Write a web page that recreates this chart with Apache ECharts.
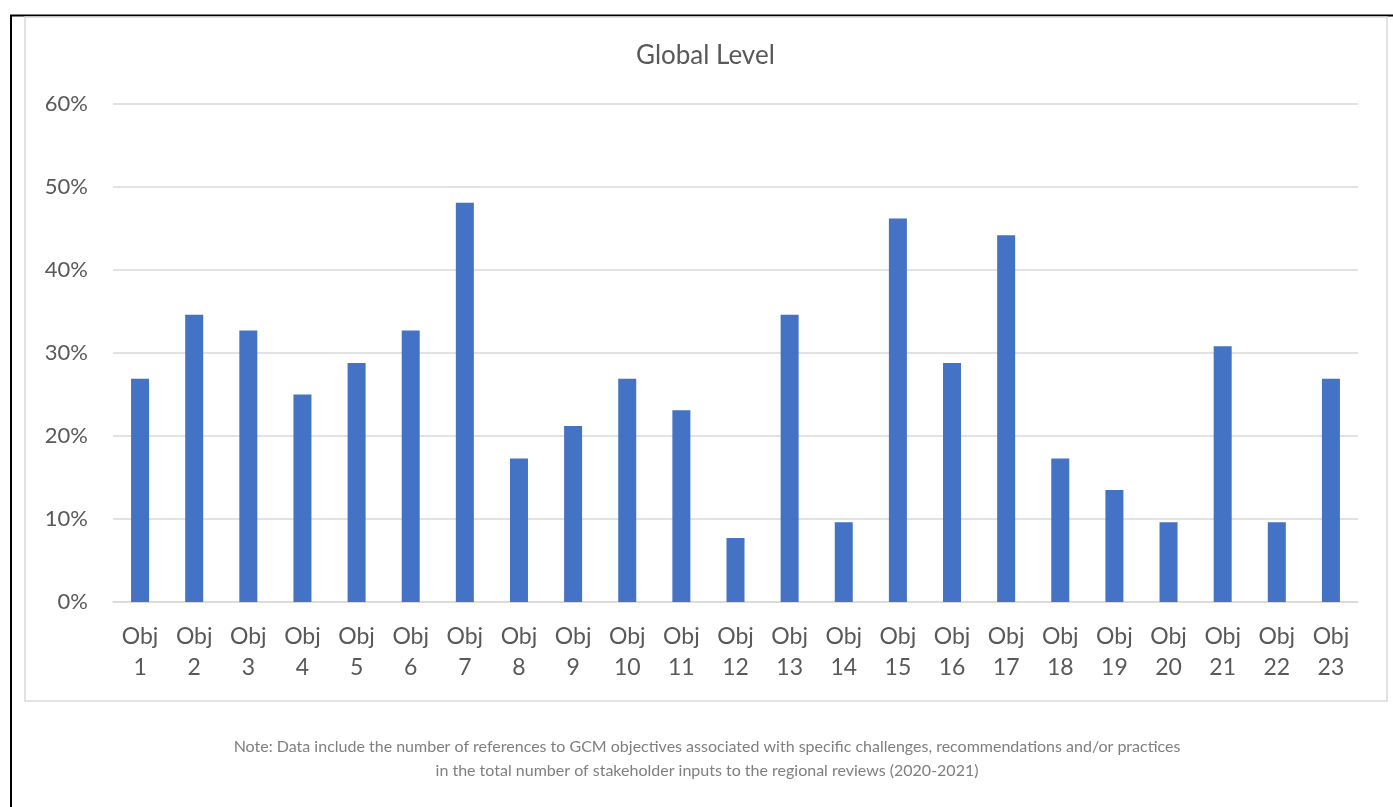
<!DOCTYPE html>
<html>
<head>
<meta charset="utf-8">
<script src="https://cdn.jsdelivr.net/npm/echarts@6/dist/echarts.min.js"></script>
<style>
  html, body { margin: 0; padding: 0; background: #fff; }
  #chart { width: 1393px; height: 807px; }
</style>
</head>
<body>
<div id="chart"></div>
<script>
// values (share of stakeholder inputs, %)
const categories = ['Obj\n1', 'Obj\n2', 'Obj\n3', 'Obj\n4', 'Obj\n5', 'Obj\n6', 'Obj\n7', 'Obj\n8',
  'Obj\n9', 'Obj\n10', 'Obj\n11', 'Obj\n12', 'Obj\n13', 'Obj\n14', 'Obj\n15', 'Obj\n16',
  'Obj\n17', 'Obj\n18', 'Obj\n19', 'Obj\n20', 'Obj\n21', 'Obj\n22', 'Obj\n23']
const shares = [26.9, 34.6, 32.7, 25.0, 28.8, 32.7, 48.1, 17.3, 21.2, 26.9, 23.1, 7.7,
  34.6, 9.6, 46.2, 28.8, 44.2, 17.3, 13.5, 9.6, 30.8, 9.6, 26.9]
const titleText = 'Global Level'
const noteLines = [
  'Note: Data include the number of references to GCM objectives associated with specific challenges, recommendations and/or practices',
  'in the total number of stakeholder inputs to the regional reviews (2020-2021)'
]

const font = 'Lato, "Open Sans", sans-serif'
const chart = echarts.init(document.getElementById('chart'), null, { renderer: 'canvas' })

chart.setOption({
  animation: false,
  title: {
    text: titleText,
    left: 631,
    top: 38,
    textStyle: { fontFamily: font, fontSize: 26, fontWeight: 'normal', color: '#595959' }
  },
  grid: {
    left: 113,
    right: 35,
    top: 104,
    bottom: 205
  },
  graphic: [
    // outer frame (black, top + left only)
    { type: 'line', shape: { x1: 11, y1: 15, x2: 11, y2: 807 }, style: { stroke: '#000', lineWidth: 2 } },
    { type: 'line', shape: { x1: 10, y1: 15.5, x2: 1393, y2: 15.5 }, style: { stroke: '#000', lineWidth: 2 } },
    // chart area border
    { type: 'rect', shape: { x: 25, y: 17, width: 1362, height: 684 }, style: { fill: 'none', stroke: '#d9d9d9', lineWidth: 1.5 } },
    {
      type: 'text', x: 707, y: 735,
      style: {
        text: noteLines.join('\n'),
        fontFamily: font, fontSize: 16, fill: '#7f7f7f',
        align: 'center', lineHeight: 24
      }
    }
  ],
  xAxis: {
    type: 'category',
    data: categories,
    axisTick: { show: false },
    axisLine: { lineStyle: { color: '#d9d9d9', width: 1.5 } },
    axisLabel: {
      interval: 0,
      margin: 19,
      fontFamily: font, fontSize: 23, color: '#595959', lineHeight: 31
    }
  },
  yAxis: {
    type: 'value',
    min: 0,
    max: 60,
    interval: 10,
    axisLine: { show: false },
    axisTick: { show: false },
    splitLine: { lineStyle: { color: '#d9d9d9', width: 1.5 } },
    axisLabel: {
      margin: 25,
      formatter: '{value}%',
      fontFamily: font, fontSize: 22, color: '#595959'
    }
  },
  series: [{
    name: titleText,
    type: 'bar',
    barWidth: 18,
    data: shares,
    itemStyle: { color: '#4472c4' }
  }]
})
</script>
</body>
</html>
